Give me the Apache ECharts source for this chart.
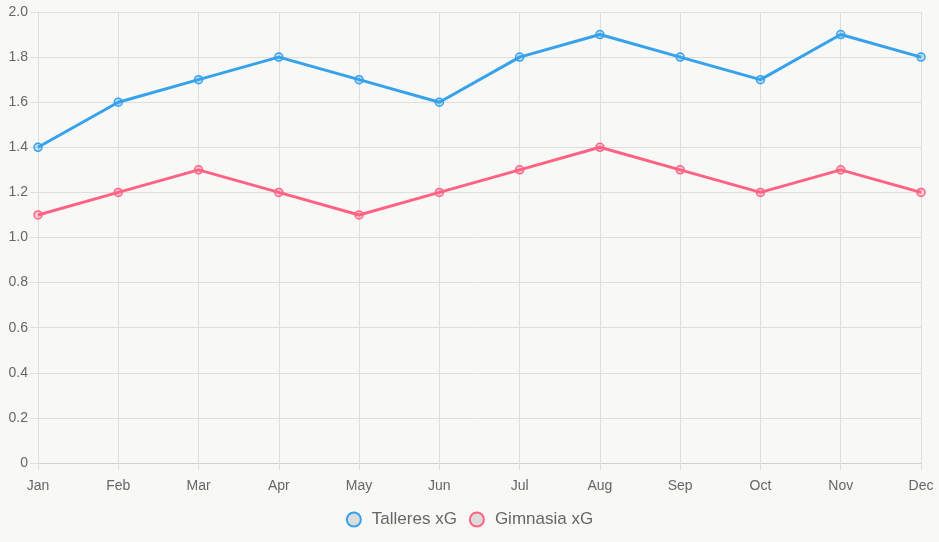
<!DOCTYPE html>
<html>
<head>
<meta charset="utf-8">
<script src="https://cdn.jsdelivr.net/npm/echarts@6/dist/echarts.min.js"></script>
<style>
  html, body { margin: 0; padding: 0; background: #f8f8f7; }
  #chart { width: 939px; height: 542px; }
</style>
</head>
<body>
<div id="chart"></div>
<script>
// datos
const months = ['Jan', 'Feb', 'Mar', 'Apr', 'May', 'Jun', 'Jul', 'Aug', 'Sep', 'Oct', 'Nov', 'Dec']
const talleres = [1.4, 1.6, 1.7, 1.8, 1.7, 1.6, 1.8, 1.9, 1.8, 1.7, 1.9, 1.8]
const gimnasia = [1.1, 1.2, 1.3, 1.2, 1.1, 1.2, 1.3, 1.4, 1.3, 1.2, 1.3, 1.2]

const font = '"Liberation Sans", Arial, sans-serif'

function lineSeries(name, data, color, fill) {
  return {
    name: name,
    type: 'line',
    data: data,
    symbol: 'circle',
    symbolSize: 8,
    lineStyle: { color: color, width: 3 },
    itemStyle: { color: fill, borderColor: color, borderWidth: 1.5 },
    emphasis: { disabled: true }
  }
}

const chart = echarts.init(document.getElementById('chart'))
chart.setOption({
  backgroundColor: '#f8f8f7',
  animation: false,
  grid: { left: 38, right: 18, top: 12, bottom: 79 },
  legend: {
    bottom: 9,
    itemWidth: 14,
    itemHeight: 14,
    itemGap: 12,
    textStyle: { color: '#666', fontSize: 17, fontFamily: font, padding: [0, 0, 0, 6] },
    data: [
      { name: 'Talleres xG', icon: 'circle', itemStyle: { color: '#dcdcdc', borderColor: '#36a2eb', borderWidth: 2 } },
      { name: 'Gimnasia xG', icon: 'circle', itemStyle: { color: '#dcdcdc', borderColor: '#ff6384', borderWidth: 2 } }
    ]
  },
  xAxis: {
    type: 'category',
    data: months,
    boundaryGap: false,
    axisLine: { lineStyle: { color: '#d0d0d0' } },
    axisTick: { show: true, length: 7, lineStyle: { color: '#dedede' } },
    axisLabel: { color: '#666', fontSize: 14, fontFamily: font, margin: 16 },
    splitLine: { show: true, lineStyle: { color: '#dedede' } }
  },
  yAxis: {
    type: 'value',
    min: 0,
    max: 2,
    interval: 0.2,
    axisLine: { show: true, lineStyle: { color: '#dedede' } },
    axisTick: { show: true, length: 8, lineStyle: { color: '#dedede' } },
    axisLabel: {
      color: '#666', fontSize: 14, fontFamily: font, margin: 10,
      formatter: v => v === 0 ? '0' : v.toFixed(1)
    },
    splitLine: { lineStyle: { color: '#dedede' } }
  },
  series: [
    lineSeries('Talleres xG', talleres, '#36a2eb', 'rgba(54,162,235,0.3)'),
    lineSeries('Gimnasia xG', gimnasia, '#ff6384', 'rgba(255,99,132,0.3)')
  ]
})
</script>
</body>
</html>
